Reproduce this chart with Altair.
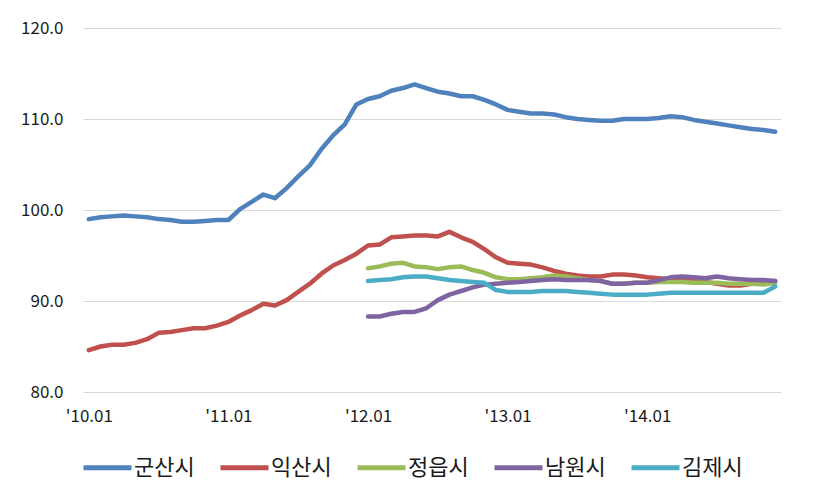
import altair as alt
import pandas as pd

cities = ["군산시", "익산시", "정읍시", "남원시", "김제시"]
colors = ["#4F81BD", "#C0504D", "#9BBB59", "#8064A2", "#4BACC6"]

months = [f"'{y:02d}.{m:02d}" for y in range(10, 15) for m in range(1, 13)]
jan_labels = ["'10.01", "'11.01", "'12.01", "'13.01", "'14.01"]

gunsan = [99.0, 99.2, 99.3, 99.4, 99.3, 99.2, 99.0, 98.9, 98.7, 98.7, 98.8, 98.9,
          98.9, 100.1, 100.9, 101.7, 101.3, 102.4, 103.7, 104.9, 106.7, 108.2, 109.4, 111.6,
          112.2, 112.5, 113.1, 113.4, 113.8, 113.4, 113.0, 112.8, 112.5, 112.5, 112.1, 111.6,
          111.0, 110.8, 110.6, 110.6, 110.5, 110.2, 110.0, 109.9, 109.8, 109.8, 110.0, 110.0,
          110.0, 110.1, 110.3, 110.2, 109.9, 109.7, 109.5, 109.3, 109.1, 108.9, 108.8, 108.6]
iksan = [84.6, 85.0, 85.2, 85.2, 85.4, 85.8, 86.5, 86.6, 86.8, 87.0, 87.0, 87.3,
         87.7, 88.4, 89.0, 89.7, 89.5, 90.1, 91.0, 91.9, 93.0, 93.9, 94.5, 95.2,
         96.1, 96.2, 97.0, 97.1, 97.2, 97.2, 97.1, 97.6, 97.0, 96.5, 95.7, 94.8,
         94.2, 94.1, 94.0, 93.7, 93.3, 93.0, 92.8, 92.7, 92.7, 92.9, 92.9, 92.8,
         92.6, 92.5, 92.4, 92.3, 92.2, 92.1, 91.9, 91.7, 91.7, 91.9, 92.0, 92.2]
# the following three series start at '12.01
jeongeup = [93.6, 93.8, 94.1, 94.2, 93.8, 93.7, 93.5, 93.7, 93.8, 93.4, 93.1, 92.6,
            92.4, 92.4, 92.5, 92.6, 92.8, 92.7, 92.5, 92.3, 92.2, 91.9, 91.9, 92.0,
            92.0, 92.1, 92.1, 92.1, 92.0, 92.0, 92.0, 91.9, 91.9, 91.9, 91.8, 92.0]
namwon = [88.3, 88.3, 88.6, 88.8, 88.8, 89.2, 90.1, 90.7, 91.1, 91.5, 91.8, 91.9,
          92.0, 92.1, 92.2, 92.3, 92.4, 92.3, 92.3, 92.3, 92.2, 91.9, 91.9, 92.0,
          92.0, 92.3, 92.6, 92.7, 92.6, 92.5, 92.7, 92.5, 92.4, 92.3, 92.3, 92.2]
gimje = [92.2, 92.3, 92.4, 92.6, 92.7, 92.7, 92.5, 92.3, 92.2, 92.1, 92.0, 91.2,
         91.0, 91.0, 91.0, 91.1, 91.1, 91.1, 91.0, 90.9, 90.8, 90.7, 90.7, 90.7,
         90.7, 90.8, 90.9, 90.9, 90.9, 90.9, 90.9, 90.9, 90.9, 90.9, 90.9, 91.6]

rows = []
for city, vals in zip(cities, [gunsan, iksan, jeongeup, namwon, gimje]):
    ms = months[len(months) - len(vals):]
    for m, v in zip(ms, vals):
        rows.append({"month": m, "city": city, "value": v})
df = pd.DataFrame(rows)

FONT = "Noto Sans CJK KR"

chart = alt.Chart(df).mark_line(strokeWidth=4.5, strokeJoin="round", strokeCap="round").encode(
    x=alt.X("month:N", sort=months,
            scale=alt.Scale(type="point", padding=0.5, domain=months),
            axis=alt.Axis(values=jan_labels, title=None, labelAngle=0, grid=False, ticks=False,
                          domain=False, labelPadding=16, labelFontSize=17, labelColor="#1a1a1a")),
    y=alt.Y("value:Q", scale=alt.Scale(domain=[80, 120], nice=False, zero=False),
            axis=alt.Axis(values=[80, 90, 100, 110, 120], format=".1f", title=None, grid=True,
                          gridColor="#d9d9d9", gridWidth=1, ticks=False, domain=False,
                          labelPadding=20, labelFontSize=17, labelColor="#1a1a1a")),
    color=alt.Color("city:N", sort=cities,
                    scale=alt.Scale(domain=cities, range=colors),
                    legend=alt.Legend(orient="none", legendX=-2, legendY=413, direction="horizontal",
                                      title=None, symbolType="stroke", symbolSize=2304,
                                      symbolStrokeWidth=5, labelFontSize=22, labelColor="#1a1a1a",
                                      columnPadding=15, labelOffset=0, padding=0)),
).properties(
    width=698, height=364,
    autosize=alt.AutoSizeParams(type="none"),
    padding={"left": 75, "top": 20, "right": 30, "bottom": 90},
).configure_view(stroke=None).configure_axis(labelFont=FONT).configure_legend(labelFont=FONT)

chart.save("out.html", embed_options={"renderer": "svg", "actions": False})
